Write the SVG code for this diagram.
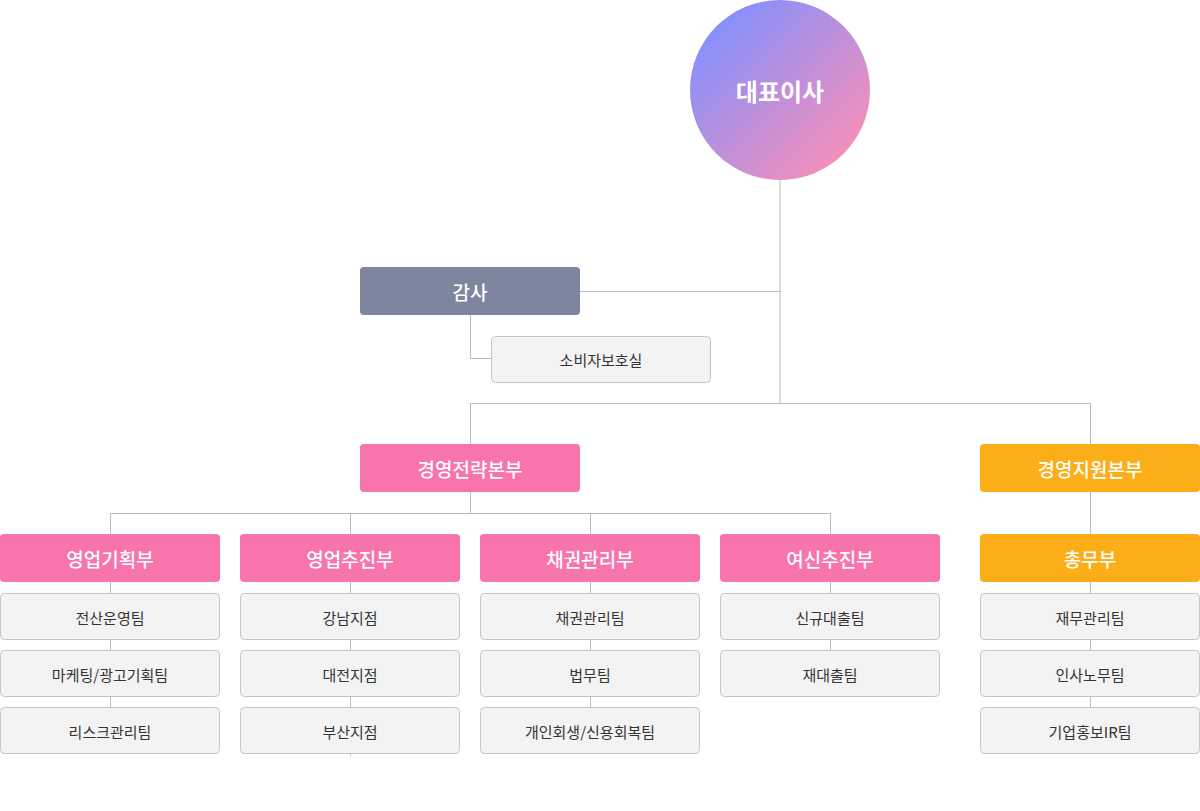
<svg xmlns="http://www.w3.org/2000/svg" width="1200" height="811" viewBox="0 0 1200 811">
<defs>
<linearGradient id="g" x1="0.15" y1="0.15" x2="0.85" y2="0.85">
<stop offset="0" stop-color="#8790fb"/><stop offset="1" stop-color="#f28fbb"/>
</linearGradient>
<style>
text{font-family:"Noto Sans CJK KR","Noto Sans",sans-serif;text-anchor:middle;dominant-baseline:central}
.c line{stroke:#bbbbbb;stroke-width:1}
.h text{fill:#fff;font-size:19px;font-weight:500}
.t rect{fill:#f3f3f3;stroke:#c4c4c4;stroke-width:1}
.t text{fill:#333;font-size:15px}
</style>
</defs>
<rect width="1200" height="811" fill="#fff"/>
<g class="c" id="connectors">
<line x1="780" y1="180" x2="780" y2="403"/>
<line x1="580" y1="291.5" x2="780" y2="291.5"/>
<line x1="470.5" y1="315" x2="470.5" y2="358.5"/>
<line x1="470" y1="358.5" x2="491" y2="358.5"/>
<line x1="470" y1="403.5" x2="1090" y2="403.5"/>
<line x1="470.5" y1="403" x2="470.5" y2="444"/>
<line x1="1090.5" y1="403" x2="1090.5" y2="444"/>
<line x1="470.5" y1="492" x2="470.5" y2="513"/>
<line x1="110" y1="513.5" x2="830" y2="513.5"/>
<line x1="110.5" y1="513" x2="110.5" y2="753"/>
<line x1="350.5" y1="513" x2="350.5" y2="756"/>
<line x1="590.5" y1="513" x2="590.5" y2="753"/>
<line x1="830.5" y1="513" x2="830.5" y2="696"/>
<line x1="1090.5" y1="492" x2="1090.5" y2="753"/>
</g>
<g id="ceo"><circle cx="780" cy="90" r="90" fill="url(#g)"/><text x="780" y="90" fill="#fff" font-size="24" font-weight="700">대표이사</text></g>
<g id="audit" class="h"><rect x="360" y="267" width="220" height="48" rx="4" fill="#7e859e"/><text x="470" y="291">감사</text></g>
<g id="consumer" class="t"><rect x="491.5" y="336.5" width="219" height="46" rx="4"/><text x="601" y="359">소비자보호실</text></g>
<g id="strategy" class="h"><rect x="360" y="444" width="220" height="48" rx="4" fill="#f774ad"/><text x="470" y="468">경영전략본부</text></g>
<g id="support" class="h"><rect x="980" y="444" width="220" height="48" rx="4" fill="#fbae18"/><text x="1090" y="468">경영지원본부</text></g>
<g id="d1" class="h"><rect x="0" y="534" width="220" height="48" rx="4" fill="#f774ad"/><text x="110" y="558">영업기획부</text></g>
<g id="d2" class="h"><rect x="240" y="534" width="220" height="48" rx="4" fill="#f774ad"/><text x="350" y="558">영업추진부</text></g>
<g id="d3" class="h"><rect x="480" y="534" width="220" height="48" rx="4" fill="#f774ad"/><text x="590" y="558">채권관리부</text></g>
<g id="d4" class="h"><rect x="720" y="534" width="220" height="48" rx="4" fill="#f774ad"/><text x="830" y="558">여신추진부</text></g>
<g id="d5" class="h"><rect x="980" y="534" width="220" height="48" rx="4" fill="#fbae18"/><text x="1090" y="558">총무부</text></g>
<g id="t11" class="t"><rect x="0.5" y="593.5" width="219" height="46" rx="4"/><text x="110" y="617">전산운영팀</text></g>
<g id="t12" class="t"><rect x="0.5" y="650.5" width="219" height="46" rx="4"/><text x="110" y="674">마케팅/광고기획팀</text></g>
<g id="t13" class="t"><rect x="0.5" y="707.5" width="219" height="46" rx="4"/><text x="110" y="731">리스크관리팀</text></g>
<g id="t21" class="t"><rect x="240.5" y="593.5" width="219" height="46" rx="4"/><text x="350" y="617">강남지점</text></g>
<g id="t22" class="t"><rect x="240.5" y="650.5" width="219" height="46" rx="4"/><text x="350" y="674">대전지점</text></g>
<g id="t23" class="t"><rect x="240.5" y="707.5" width="219" height="46" rx="4"/><text x="350" y="731">부산지점</text></g>
<g id="t31" class="t"><rect x="480.5" y="593.5" width="219" height="46" rx="4"/><text x="590" y="617">채권관리팀</text></g>
<g id="t32" class="t"><rect x="480.5" y="650.5" width="219" height="46" rx="4"/><text x="590" y="674">법무팀</text></g>
<g id="t33" class="t"><rect x="480.5" y="707.5" width="219" height="46" rx="4"/><text x="590" y="731">개인회생/신용회복팀</text></g>
<g id="t41" class="t"><rect x="720.5" y="593.5" width="219" height="46" rx="4"/><text x="830" y="617">신규대출팀</text></g>
<g id="t42" class="t"><rect x="720.5" y="650.5" width="219" height="46" rx="4"/><text x="830" y="674">재대출팀</text></g>
<g id="t51" class="t"><rect x="980.5" y="593.5" width="219" height="46" rx="4"/><text x="1090" y="617">재무관리팀</text></g>
<g id="t52" class="t"><rect x="980.5" y="650.5" width="219" height="46" rx="4"/><text x="1090" y="674">인사노무팀</text></g>
<g id="t53" class="t"><rect x="980.5" y="707.5" width="219" height="46" rx="4"/><text x="1090" y="731">기업홍보IR팀</text></g>
</svg>
